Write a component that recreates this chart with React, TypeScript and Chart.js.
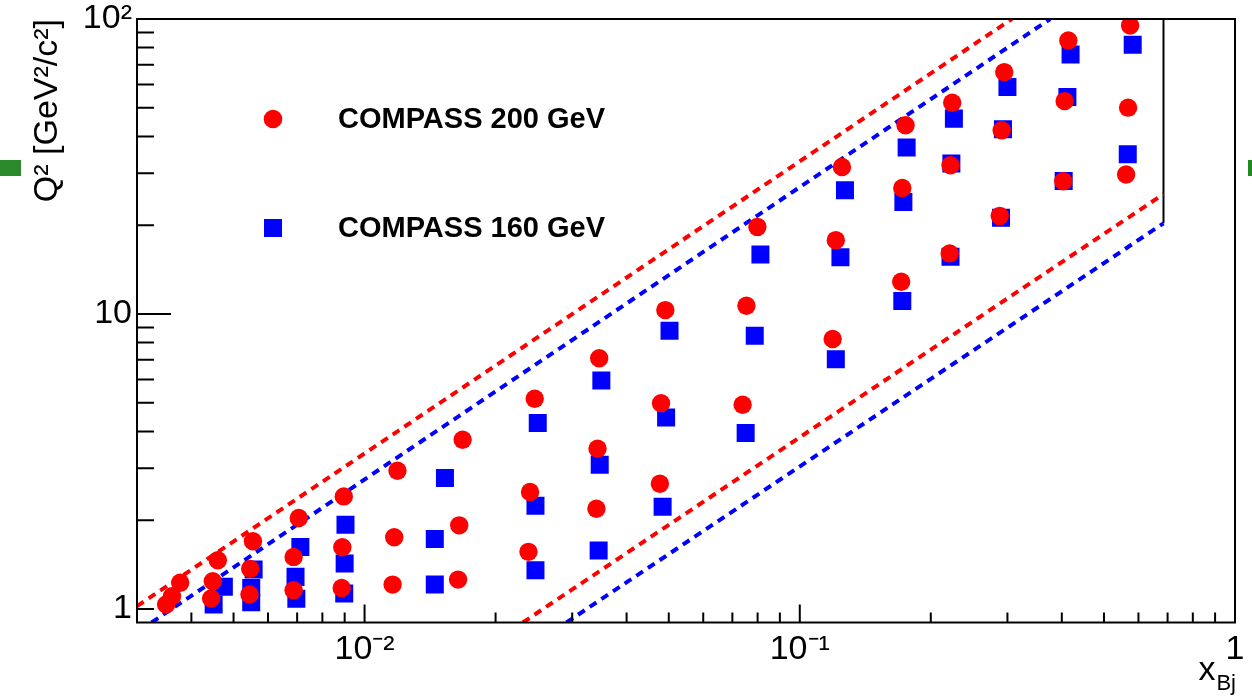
import React, { useEffect, useRef } from "react";
import { Chart, registerables } from "chart.js";

Chart.register(...registerables);

const FONT = "'Liberation Sans', Arial, Helvetica, sans-serif";

// ---- axis ticks ----
const xTickValues = [0.01, 0.1, 1];
const xTickLabels = ["10\u207B\u00B2", "10\u207B\u00B9", "1"];
const yTickValues = [1, 10, 100];
const yTickLabels = ["1", "10", "10\u00B2"];
const xMinorTicks = [0.004, 0.005, 0.006, 0.007, 0.008, 0.009, 0.02, 0.03, 0.04, 0.05, 0.06, 0.07, 0.08, 0.09, 0.2, 0.3, 0.4, 0.5, 0.6, 0.7, 0.8, 0.9];
const yMinorTicks = [2, 3, 4, 5, 6, 7, 8, 9, 20, 30, 40, 50, 60, 70, 80, 90];

// ---- COMPASS 200 GeV ----
const x200 = [
  0.0035, 0.00361, 0.00377, 0.0046, 0.00448, 0.00444, 0.00554, 0.00546, 0.00544,
  0.00706, 0.00687, 0.00687, 0.00896, 0.00889, 0.00886, 0.0119, 0.0117, 0.0116,
  0.0168, 0.0165, 0.0164, 0.0246, 0.024, 0.0238, 0.0346, 0.0343, 0.0341,
  0.0491, 0.048, 0.0477, 0.0799, 0.0754, 0.0739, 0.125, 0.121, 0.119,
  0.175, 0.172, 0.171, 0.224, 0.222, 0.221, 0.295, 0.291, 0.288,
  0.414, 0.406, 0.403, 0.574, 0.568, 0.562,
];
const q2_200 = [
  1.036, 1.105, 1.227, 1.463, 1.242, 1.085, 1.696, 1.368, 1.12,
  2.035, 1.502, 1.158, 2.408, 1.619, 1.179, 2.942, 1.75, 1.21,
  3.746, 1.921, 1.258, 5.158, 2.492, 1.562, 7.082, 3.493, 2.188,
  10.31, 4.987, 2.659, 19.74, 10.67, 4.922, 31.51, 17.8, 8.232,
  43.62, 26.76, 12.86, 52.04, 31.93, 16.05, 66.07, 41.95, 21.51,
  84.6, 52.69, 28.19, 95.06, 50.06, 29.71,
];

// ---- COMPASS 160 GeV ----
const x160 = [
  0.0045, 0.00475, 0.00556, 0.00549, 0.00549, 0.00712, 0.00694, 0.00697,
  0.00904, 0.009, 0.00898, 0.0153, 0.0145, 0.0145, 0.025, 0.0247, 0.0247,
  0.035, 0.0347, 0.0345, 0.0502, 0.0493, 0.0484, 0.0812, 0.0788, 0.0751,
  0.127, 0.124, 0.121, 0.176, 0.173, 0.172, 0.226, 0.223, 0.222,
  0.3, 0.293, 0.29, 0.419, 0.412, 0.404, 0.582, 0.567,
];
const q2_160 = [
  1.036, 1.189, 1.36, 1.179, 1.054, 1.624, 1.285, 1.083,
  1.932, 1.426, 1.128, 2.78, 1.728, 1.21, 4.267, 2.24, 1.353,
  5.948, 3.083, 1.578, 8.78, 4.458, 2.223, 15.92, 8.446, 3.947,
  26.28, 15.56, 7.026, 36.65, 23.99, 11.07, 45.95, 32.36, 15.63,
  58.77, 42.28, 21.18, 75.83, 54.36, 28.26, 81.78, 34.79,
];

// ---- kinematic limits (dashed) ----
const upper200X = [0.003, 0.307];
const upper200Q2 = [1.022, 100];
const lower200X = [0.0231, 0.685];
const lower200Q2 = [0.9, 25.5];
const upper160X = [0.00324, 0.376];
const upper160Q2 = [0.9, 100];
const lower160X = [0.0291, 0.685];
const lower160Q2 = [0.9, 20.3];
const boundaryX = [0.685, 0.685];
const boundaryQ2 = [20.3, 100];

const seriesLabels = ["COMPASS 200 GeV", "COMPASS 160 GeV"];
const xRange = [0.003, 1];
const yRange = [0.9, 100];

const pts = (xs: number[], ys: number[]) => xs.map((x, i) => ({ x, y: ys[i] }));

const rootAxesPlugin = {
  id: "rootAxes",
  afterDraw(chart: any) {
    const { ctx, chartArea: a, scales } = chart;
    const xs = scales.x;
    const ys = scales.y;
    ctx.save();
    ctx.strokeStyle = "#000";
    ctx.lineWidth = 2;
    ctx.beginPath();
    for (const v of xMinorTicks) {
      const p = xs.getPixelForValue(v);
      ctx.moveTo(p, a.bottom);
      ctx.lineTo(p, a.bottom - 10);
    }
    for (const v of xTickValues) {
      const p = xs.getPixelForValue(v);
      ctx.moveTo(p, a.bottom);
      ctx.lineTo(p, a.bottom - 18);
    }
    for (const v of yMinorTicks) {
      const p = ys.getPixelForValue(v);
      ctx.moveTo(a.left, p);
      ctx.lineTo(a.left + 17, p);
    }
    for (const v of yTickValues) {
      const p = ys.getPixelForValue(v);
      ctx.moveTo(a.left, p);
      ctx.lineTo(a.left + (v === 1 ? 17 : 34), p);
    }
    ctx.stroke();
    ctx.strokeRect(a.left, a.top, a.right - a.left, a.bottom - a.top);

    // x axis title  x_Bj
    ctx.fillStyle = "#000";
    ctx.textBaseline = "alphabetic";
    ctx.textAlign = "left";
    ctx.font = `22px ${FONT}`;
    const wSub = ctx.measureText("Bj").width;
    ctx.font = `34px ${FONT}`;
    const wX = ctx.measureText("x").width;
    const endX = a.right + 1;
    ctx.fillText("x", endX - wSub - wX - 1, 680);
    ctx.font = `22px ${FONT}`;
    ctx.fillText("Bj", endX - wSub, 690);

    // legend
    const items = [
      { ds: chart.data.datasets[0], cy: 119 },
      { ds: chart.data.datasets[1], cy: 228 },
    ];
    for (const it of items) {
      ctx.fillStyle = it.ds.backgroundColor;
      if (it.ds.pointStyle === "rect") {
        ctx.fillRect(273 - 9, it.cy - 9, 18, 18);
      } else {
        ctx.beginPath();
        ctx.arc(273, it.cy, 9.3, 0, Math.PI * 2);
        ctx.fill();
      }
      ctx.fillStyle = "#000";
      ctx.font = `bold 29px ${FONT}`;
      ctx.textBaseline = "middle";
      ctx.fillText(it.ds.label, 338, it.cy + 1);
    }
    ctx.restore();
  },
};

export default function App() {
  const ref = useRef<HTMLCanvasElement | null>(null);

  useEffect(() => {
    if (!ref.current) return;
    const dash = (label: string, xs: number[], ys: number[], color: string) => ({
      label,
      data: pts(xs, ys),
      showLine: true,
      borderColor: color,
      backgroundColor: color,
      borderWidth: 4,
      borderDash: [8, 6],
      borderCapStyle: "butt",
      pointRadius: 0,
      fill: false,
      tension: 0,
    });
    const chart = new Chart(ref.current, {
      type: "scatter",
      data: {
        datasets: [
          {
            label: seriesLabels[0],
            data: pts(x200, q2_200),
            pointStyle: "circle",
            pointRadius: 9.2,
            backgroundColor: "#ff0000",
            borderColor: "#ff0000",
            borderWidth: 0,
          },
          {
            label: seriesLabels[1],
            data: pts(x160, q2_160),
            pointStyle: "rect",
            pointRadius: 12.73,
            backgroundColor: "#0000ff",
            borderColor: "#0000ff",
            borderWidth: 0,
          },
          dash("upper 200", upper200X, upper200Q2, "#ff0000"),
          dash("lower 200", lower200X, lower200Q2, "#ff0000"),
          dash("upper 160", upper160X, upper160Q2, "#0000ff"),
          dash("lower 160", lower160X, lower160Q2, "#0000ff"),
          {
            label: "boundary",
            data: pts(boundaryX, boundaryQ2),
            showLine: true,
            borderColor: "#000",
            borderWidth: 2,
            pointRadius: 0,
          },
        ] as any,
      },
      options: {
        responsive: false,
        devicePixelRatio: 1,
        animation: false,
        events: [],
        layout: { padding: { left: 0, top: 19, right: 17, bottom: 0 } },
        plugins: {
          legend: { display: false },
          tooltip: { enabled: false },
        },
        scales: {
          x: {
            type: "logarithmic",
            position: "bottom",
            min: xRange[0],
            max: xRange[1],
            grid: { display: false, drawTicks: false, tickLength: 0 },
            border: { display: false },
            afterBuildTicks: (scale: any) => {
              scale.ticks = xTickValues.map((v) => ({ value: v }));
            },
            afterFit: (scale: any) => {
              scale.height = 77.5;
              scale.paddingLeft = 0;
              scale.paddingRight = 0;
            },
            ticks: {
              autoSkip: false,
              maxRotation: 0,
              padding: 10,
              color: "#000",
              font: { family: FONT, size: 34, lineHeight: 1 },
              callback: (_v: any, i: number) => xTickLabels[i],
            },
          },
          y: {
            type: "logarithmic",
            position: "left",
            min: yRange[0],
            max: yRange[1],
            grid: { display: false, drawTicks: false, tickLength: 0 },
            border: { display: false },
            afterBuildTicks: (scale: any) => {
              scale.ticks = yTickValues.map((v) => ({ value: v }));
            },
            afterFit: (scale: any) => {
              scale.width = 137;
              scale.paddingTop = 0;
              scale.paddingBottom = 0;
            },
            ticks: {
              autoSkip: false,
              padding: 5,
              color: "#000",
              font: { family: FONT, size: 34, lineHeight: 1 },
              callback: (_v: any, i: number) => yTickLabels[i],
            },
            title: {
              display: true,
              text: "Q\u00B2 [GeV\u00B2/c\u00B2]",
              align: "end",
              color: "#000",
              font: { family: FONT, size: 34, lineHeight: 1 },
              padding: { top: 31, bottom: 0 },
            },
          },
        },
      } as any,
      plugins: [rootAxesPlugin],
    });
    return () => chart.destroy();
  }, []);

  return (
    <div style={{ position: "fixed", left: 0, top: 0, width: 1252, height: 700, background: "#fff" }}>
      <canvas ref={ref} width={1252} height={700} style={{ display: "block" }} />
      <div style={{ position: "absolute", left: 0, top: 160, width: 21, height: 16, background: "#2b8a2b" }} />
      <div style={{ position: "absolute", left: 1248, top: 160, width: 4, height: 16, background: "#1f8a1f" }} />
    </div>
  );
}
